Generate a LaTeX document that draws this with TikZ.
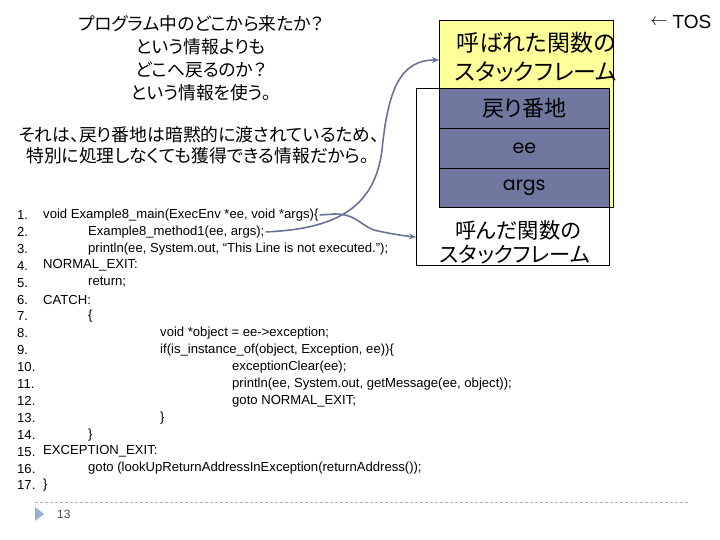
\documentclass[tikz,border=0pt]{standalone}
\usepackage{fontspec}
\setmainfont{Liberation Sans}
\newfontfamily\jp[RawFeature=+palt]{Noto Sans CJK JP}
\newfontfamily\codef{Liberation Sans}
\newfontfamily\comic{Poppins}
\usetikzlibrary{arrows.meta,calc}
\definecolor{yel}{RGB}{255,255,153}
\definecolor{slate}{RGB}{112,120,160}
\definecolor{linkc}{RGB}{106,115,148}
\definecolor{footc}{RGB}{160,174,200}
\definecolor{tric}{RGB}{150,175,210}
\begin{document}
\begin{tikzpicture}[x=1pt,y=-1pt,
  jptext/.style={font=\jp\fontsize{17.8}{20}\selectfont, inner sep=0pt, anchor=center},
  bigjp/.style={font=\jp\fontsize{23}{26}\selectfont, inner sep=0pt, anchor=center},
  midjp/.style={font=\jp\fontsize{21.3}{24}\selectfont, inner sep=0pt, anchor=center},
  code/.style={font=\codef\fontsize{13.1}{15}\selectfont, anchor=west, inner sep=0pt},
  rowbox/.style={draw=black, fill=slate, minimum width=170pt, minimum height=40pt, anchor=north west, inner sep=0pt, line width=0.6pt},
  link/.style={draw=linkc, line width=1.6pt, -{Stealth[length=7pt,width=6pt]}}]
\useasboundingbox (0,0) rectangle (720,540);

% left explanatory text
\node[jptext] (t1) at (201,24) {プログラム中のどこから来たか？};
\node[jptext] (t2) at (201,47) {という情報よりも};
\node[jptext] (t3) at (201,70) {どこへ戻るのか？};
\node[jptext] (t4) at (201,93) {という情報を使う。};
\node[jptext] (t5) at (199,135) {それは、戻り番地は暗黙的に渡されているため、};
\node[jptext] (t6) at (198,156) {特別に処理しなくても獲得できる情報だから。};

% stack frames
\node[draw=black, fill=yel, line width=0.6pt, minimum width=174pt, minimum height=187pt, anchor=north west, inner sep=0pt] (callee) at (439,20) {};
\node[draw=black, fill=white, line width=0.6pt, minimum width=193pt, minimum height=177pt, anchor=north west, inner sep=0pt] (caller) at (416,88) {};
\node[rowbox, font=\jp\fontsize{22}{24}\selectfont] (r1) at (439,88) {戻り番地};
\node[rowbox, font=\comic\fontsize{19}{22}\selectfont] (r2) at (439,128) {ee};
\node[rowbox, minimum height=39pt, font=\comic\fontsize{19}{22}\selectfont] (r3) at (439,168) {args};
\node[bigjp] (ce1) at (536,43) {呼ばれた関数の};
\node[bigjp] (ce2) at (536,72) {スタックフレーム};
\node[midjp] (cr1) at (518,230) {呼んだ関数の};
\node[midjp] (cr2) at (515,255) {スタックフレーム};
\node[font=\fontsize{18}{20}\selectfont, inner sep=0pt] (tosa) at (659,22) {$\leftarrow$};
\node[font=\fontsize{19}{21}\selectfont, inner sep=0pt] (tos) at (692,22) {TOS};

% code
\foreach \i/\t in {1/1.,2/2.,3/3.,4/4.,5/5.,6/6.,7/7.,8/8.,9/9.,10/10.,11/11.,12/12.,13/13.,14/14.,15/15.,16/16.,17/17.}{
  \node[code] (n\i) at (17,{215+(\i-1)*16.9}) {\t};
}
\node[code] (c1) at (43,215) {void Example8\_main(ExecEnv *ee, void *args)\{};
\node[code] (c2) at (88,231.9) {Example8\_method1(ee, args);};
\node[code] (c3) at (88,248.8) {println(ee, System.out, “This Line is not executed.”);};
\node[code] (c4) at (43,265.7) {NORMAL\_EXIT:};
\node[code] (c5) at (88,282.6) {return;};
\node[code] (c6) at (43,299.5) {CATCH:};
\node[code] (c7) at (88,316.4) {\{};
\node[code] (c8) at (160,333.3) {void *object = ee->exception;};
\node[code] (c9) at (160,350.2) {if(is\_instance\_of(object, Exception, ee))\{};
\node[code] (c10) at (232,367.1) {exceptionClear(ee);};
\node[code] (c11) at (232,384) {println(ee, System.out, getMessage(ee, object));};
\node[code] (c12) at (232,400.9) {goto NORMAL\_EXIT;};
\node[code] (c13) at (160,417.8) {\}};
\node[code] (c14) at (88,434.7) {\}};
\node[code] (c15) at (43,451.6) {EXCEPTION\_EXIT:};
\node[code] (c16) at (88,468.5) {goto (lookUpReturnAddressInException(returnAddress());};
\node[code] (c17) at (43,485.4) {\}};

% connectors
\draw[link] ([xshift=1pt]c2.east) .. controls (340,229) and (375,205) .. (382,150) .. controls (388,90) and (400,60) .. ($(callee.north west)+(0,40)$);
\draw[link] ([xshift=1pt]c1.east) -- (335,214) .. controls (358,214) and (362,228) .. (378,231) .. controls (392,234) and (405,236) .. ($(caller.north west)+(0,149)$);

% footer
\draw[footc, line width=0.7pt, dash pattern=on 3pt off 2pt] (35,502) -- (688,502);
\fill[tric] (35,507) -- (44,514) -- (35,521) -- cycle;
\node[font=\fontsize{12}{14}\selectfont, text=black!70, anchor=west, inner sep=0pt] (pg) at (57,514) {13};
\end{tikzpicture}
\end{document}
